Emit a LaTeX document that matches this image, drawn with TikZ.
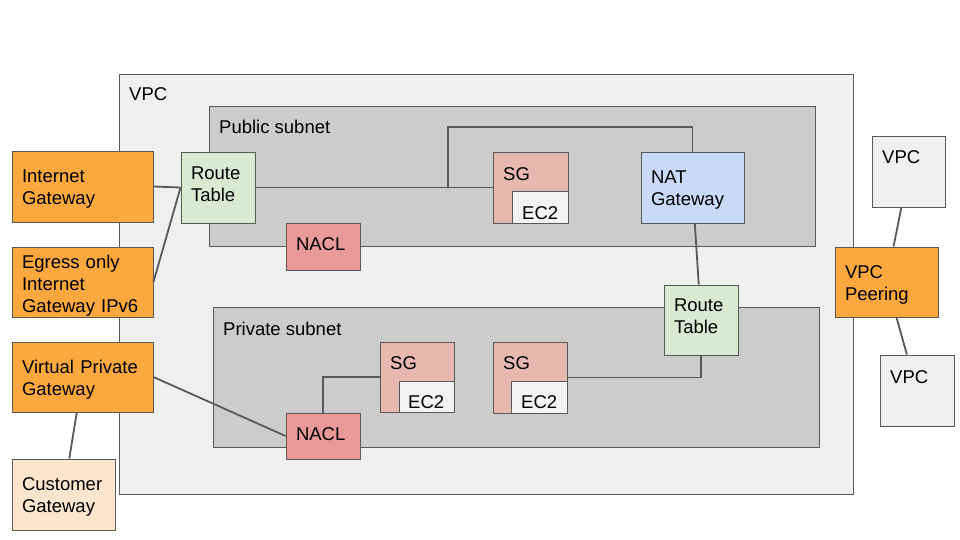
\documentclass[tikz,border=0pt]{standalone}
\usepackage{fontspec}
\setmainfont{Liberation Sans}
\definecolor{vpcbg}{HTML}{EFEFEF}
\definecolor{subc}{HTML}{CCCCCC}
\definecolor{orng}{HTML}{FBA83F}
\definecolor{rtgreen}{HTML}{D9EAD3}
\definecolor{naclc}{HTML}{EA9999}
\definecolor{sgc}{HTML}{E6B8AF}
\definecolor{ec2c}{HTML}{F3F3F3}
\definecolor{natc}{HTML}{C9DAF8}
\definecolor{custc}{HTML}{FCE5CD}
\definecolor{bordc}{HTML}{595959}
\definecolor{linec}{HTML}{595959}
\tikzset{
  box/.style={draw=bordc, line width=0.9pt, rectangle, inner sep=0pt},
  st/.style 2 args={execute at begin node={\rule[-#2pt]{0pt}{\dimexpr#1pt+#2pt\relax}},
                    execute at end node={\rule[-#2pt]{0pt}{\dimexpr#1pt+#2pt\relax}}},
  tbox/.style={box, inner xsep=10pt, inner ysep=0pt, align=left},
  lbl/.style={anchor=base west, inner sep=0pt},
  conn/.style={draw=linec, line width=1.8pt},
}
\begin{document}
\begin{tikzpicture}[x=1pt,y=-1pt, font=\fontsize{18.5}{22}\selectfont]
\useasboundingbox[fill=white] (0,0) rectangle (960,540);
% containers
\node[box, fill=vpcbg, minimum width=734pt, minimum height=420pt] (vpc) at (486,284) {};
\node[lbl] (vpclbl) at (129,101) {VPC};
\node[box, fill=subc, minimum width=606pt, minimum height=140pt] (pub) at (512,176) {};
\node[lbl] (publbl) at (219,134) {Public subnet};
\node[box, fill=subc, minimum width=606pt, minimum height=140pt] (priv) at (516,377) {};
\node[lbl] (privlbl) at (223,335) {Private subnet};
% left gateways
\node[tbox, fill=orng, minimum width=141pt, minimum height=71pt, text width=121pt, st={18.5}{3.5}] (igw) at (82.5,186.5) {Internet\\Gateway};
\node[tbox, fill=orng, minimum width=141pt, minimum height=70pt, text width=121pt, st={21.5}{3.5}] (eg) at (82.5,282) {Egress only\\Internet\\Gateway IPv6};
\node[tbox, fill=orng, minimum width=141pt, minimum height=70pt, text width=121pt, st={18.5}{3.5}] (vpg) at (82.5,377) {Virtual Private\\Gateway};
\node[tbox, fill=custc, minimum width=103pt, minimum height=71pt, text width=83pt, st={18.5}{3.5}] (cgw) at (63.5,494.5) {Customer\\Gateway};
% route tables, NACLs
\node[tbox, fill=rtgreen, minimum width=74pt, minimum height=71pt, text width=54pt, st={13.5}{8.5}] (rt1) at (218,187.5) {Route\\Table};
\node[tbox, fill=naclc, minimum width=74pt, minimum height=47pt, text width=54pt, st={13.5}{5.5}] (nacl1) at (323,246.5) {NACL};
\node[tbox, fill=naclc, minimum width=74pt, minimum height=46pt, text width=54pt, st={13.5}{5.5}] (nacl2) at (323,436) {NACL};
\node[tbox, fill=rtgreen, minimum width=74pt, minimum height=70pt, text width=54pt, st={13.5}{8.5}] (rt2) at (701,320) {Route\\Table};
% NAT
\node[tbox, fill=natc, minimum width=103pt, minimum height=71pt, text width=83pt, st={18.5}{3.5}] (nat) at (692.5,187.5) {NAT\\Gateway};
% security groups
\node[box, fill=sgc, minimum width=75pt, minimum height=71pt] (sg1) at (530.5,187.5) {};
\node[box, fill=ec2c, minimum width=56pt, minimum height=32pt] (ec2a) at (540,207) {};
\node[lbl] (sg1l) at (503,180) {SG};
\node[lbl] (ec2al) at (522,219) {EC2};
\node[box, fill=sgc, minimum width=74pt, minimum height=70pt] (sg2) at (417,377) {};
\node[box, fill=ec2c, minimum width=55pt, minimum height=31pt] (ec2b) at (426.5,396.5) {};
\node[lbl] (sg2l) at (390,369) {SG};
\node[lbl] (ec2bl) at (408,408) {EC2};
\node[box, fill=sgc, minimum width=74pt, minimum height=71pt] (sg3) at (530,377.5) {};
\node[box, fill=ec2c, minimum width=56pt, minimum height=32pt] (ec2c) at (539,397) {};
\node[lbl] (sg3l) at (503,369) {SG};
\node[lbl] (ec2cl) at (521,408) {EC2};
% right side
\node[tbox, fill=orng, minimum width=103pt, minimum height=70pt, text width=83pt, st={18.5}{3.5}] (peer) at (886.5,282) {VPC\\Peering};
\node[box, fill=vpcbg, minimum width=73pt, minimum height=71pt] (vpc2) at (908.5,171.5) {};
\node[lbl] (vpc2l) at (882,164) {VPC};
\node[box, fill=vpcbg, minimum width=74pt, minimum height=71pt] (vpc3) at (917,390.5) {};
\node[lbl] (vpc3l) at (890,383) {VPC};
% connectors
\coordinate (j) at (448,187.5);
\coordinate (jt) at (448,127);
\draw[conn] (igw.east) -- (rt1.west);
\draw[conn] (eg.east) -- (rt1.west);
\draw[conn] (rt1.east) -- (sg1.west);
\draw[conn] (j) -- (jt) -| (nat.north);
\draw[conn] (nat) -- (rt2);
\draw[conn] (rt2.south) |- (sg3.east);
\draw[conn] (nacl2.north) |- (sg2.west);
\draw[conn] (vpg.east) -- (nacl2.west);
\draw[conn] (vpg) -- (cgw);
\draw[conn] (vpc2) -- (peer);
\draw[conn] (peer) -- (vpc3);
\end{tikzpicture}
\end{document}
